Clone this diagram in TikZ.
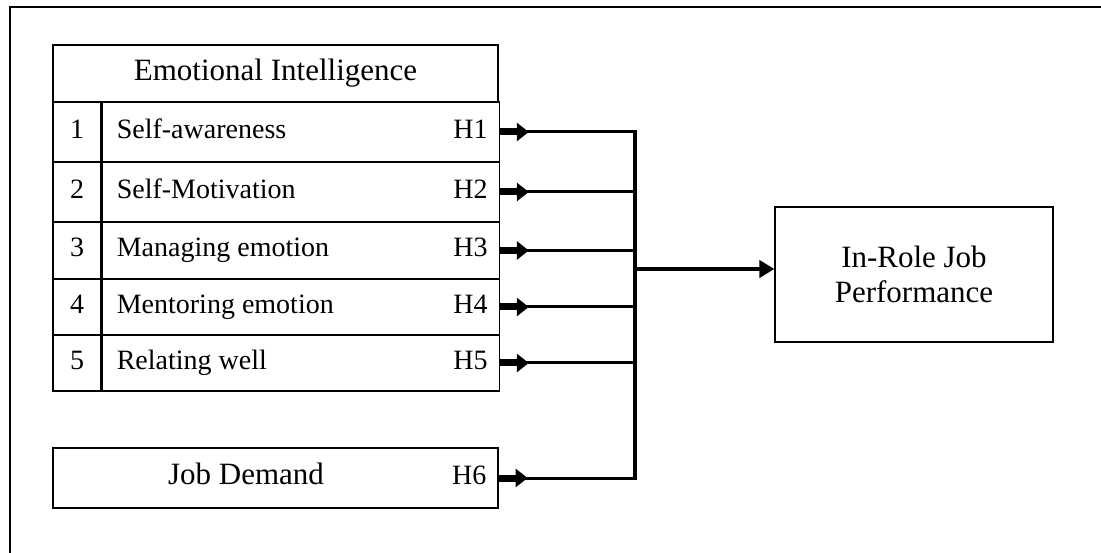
\documentclass[tikz,border=0pt]{standalone}
\usepackage{fontspec}
\setmainfont{Liberation Serif}
\usetikzlibrary{arrows.meta}
\tikzset{
  cell/.style={draw, line width=1.2pt, inner sep=0pt},
  txt/.style={inner sep=0pt, text height=19pt, text depth=6pt},
  link/.style={line width=3pt},
  stub/.style={line width=7pt, -{Triangle[length=12pt,width=18pt]}},
}

\begin{document}
\begin{tikzpicture}[x=1pt, y=-1pt, font=\fontsize{28}{34}\selectfont]%EI model
\useasboundingbox (0,0) rectangle (1101,553);
% outer frame
  \draw [line width=1.5pt] (10,553) -- (10,7) -- (1101,7);
% table
  \node [cell, minimum width=445pt, minimum height=57pt, font=\fontsize{31}{36}\selectfont] (ei) at (275.5,73.5) {Emotional Intelligence};
  \foreach \i/\lbl/\y/\rowh in {1/Self-awareness/132/60, 2/Self-Motivation/192/60, 3/Managing emotion/250.5/57, 4/Mentoring emotion/307/56, 5/Relating well/363/56}{
    \node [cell, minimum width=48pt, minimum height=\rowh pt] (n\i) at (77,\y) {};
    \node [txt] (k\i) at (n\i) {\i};
    \node [cell, minimum width=397pt, minimum height=\rowh pt, anchor=west] (r\i) at (n\i.east) {};
    \node [txt, anchor=west] (t\i) at ([xshift=15pt]r\i.west) {\lbl};
    \node [txt, anchor=east] (h\i) at ([xshift=-12pt]r\i.east) {H\i};
  }
  \node [cell, minimum width=445pt, minimum height=60pt] (jd) at (275.5,478) {};
  \node [txt, font=\fontsize{31}{36}\selectfont] (jdt) at (246,478) {Job Demand};
  \node [txt, anchor=east] (h6) at ([xshift=-12pt]jd.east) {H6};
% outcome
  \node [draw, line width=1.2pt, minimum width=278pt, minimum height=135pt, align=center, font=\fontsize{31}{35}\selectfont] (perf) at (914,274.5) {In-Role Job\\Performance};
% links
  \coordinate (bus) at (635,269);
  \foreach \i in {1,...,5}{
    \draw [link] (r\i.east) -- (r\i.east -| bus);
    \draw [stub] (r\i.east) -- ++(29,0);
  }
  \draw [link] (jd.east) -- (jd.east -| bus);
  \draw [stub] (jd.east) -- ++(29,0);
  \draw [line width=4pt, line cap=rect] (r1.east -| bus) -- (jd.east -| bus);
  \draw [line width=4pt, -{Triangle[length=15pt,width=17pt]}] (bus) -- (bus -| perf.west);
\end{tikzpicture}
\end{document}
